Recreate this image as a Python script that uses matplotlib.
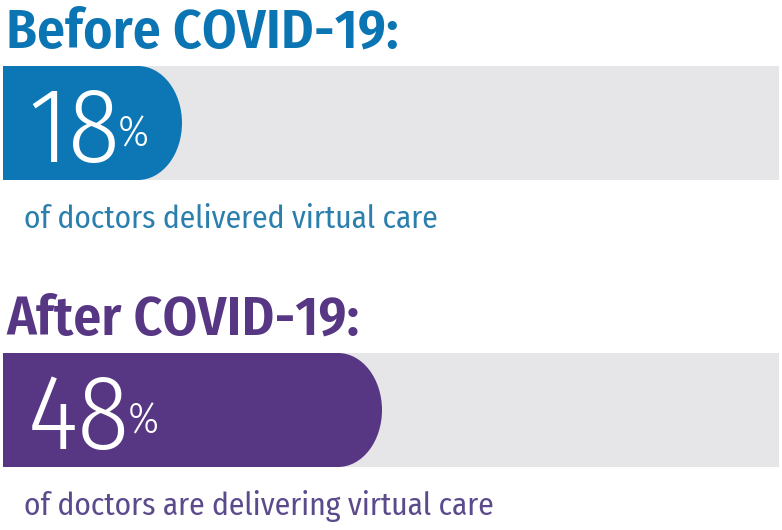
import matplotlib.pyplot as plt
from matplotlib.patches import Rectangle, Ellipse

# data
headings = ['Before COVID-19:', 'After COVID-19:']
values = [18, 48]
captions = ['of doctors delivered virtual care',
            'of doctors are delivering virtual care']

# style
bar_colors = ['#0d77b5', '#573784']
head_colors = ['#0b75b3', '#573784']
cap_colors = ['#2b7fac', '#5b4a8c']
track_color = '#e6e6e8'
font = ['Fira Sans Condensed', 'DejaVu Sans']

W, H = 782, 530
fig = plt.figure(figsize=(W / 100, H / 100), dpi=100)
ax = fig.add_axes([0, 0, 1, 1])
# percent scale: 0% sits a bit in from the left edge, like the infographic
x0_px, px_per_pct = 62, 200 / 30
ax.set_xlim(-x0_px / px_per_pct, (W - x0_px) / px_per_pct)
ax.set_ylim(H, 0)
ax.axis('off')


def px(x):
    return (x - x0_px) / px_per_pct


left = px(3)
track_right = px(779)
bar_h = 114
rx = 44 / px_per_pct
row_top = [66, 353]
head_base = [48, 335]
cap_base = [228, 515]

for i in range(2):
    top = row_top[i]
    cy = top + bar_h / 2
    ax.add_patch(Rectangle((left, top), track_right - left, bar_h,
                           color=track_color, lw=0))
    v = values[i]
    ax.add_patch(Rectangle((left, top), v - rx - left, bar_h,
                           color=bar_colors[i], lw=0))
    ax.add_patch(Ellipse((v - rx, cy), 2 * rx, bar_h,
                         color=bar_colors[i], lw=0))

    ax.text(px(6), head_base[i], headings[i], family=font, weight=600,
            fontsize=40, color=head_colors[i], va='baseline', ha='left')

    t = ax.text(px(28), top + 96, str(v), family=font, weight=300,
                fontsize=77, color='white', va='baseline', ha='left')
    fig.canvas.draw()
    bb = t.get_window_extent()
    xr = ax.transData.inverted().transform((bb.x1, 0))[0]
    ax.text(xr - 0.4, top + 80, '%', family=font, weight=300, fontsize=31,
            color='white', va='baseline', ha='left')

    ax.text(px(24), cap_base[i], captions[i], family=font, weight=400,
            fontsize=22.6, color=cap_colors[i], va='baseline', ha='left')

fig.savefig('out.png', dpi=100)
